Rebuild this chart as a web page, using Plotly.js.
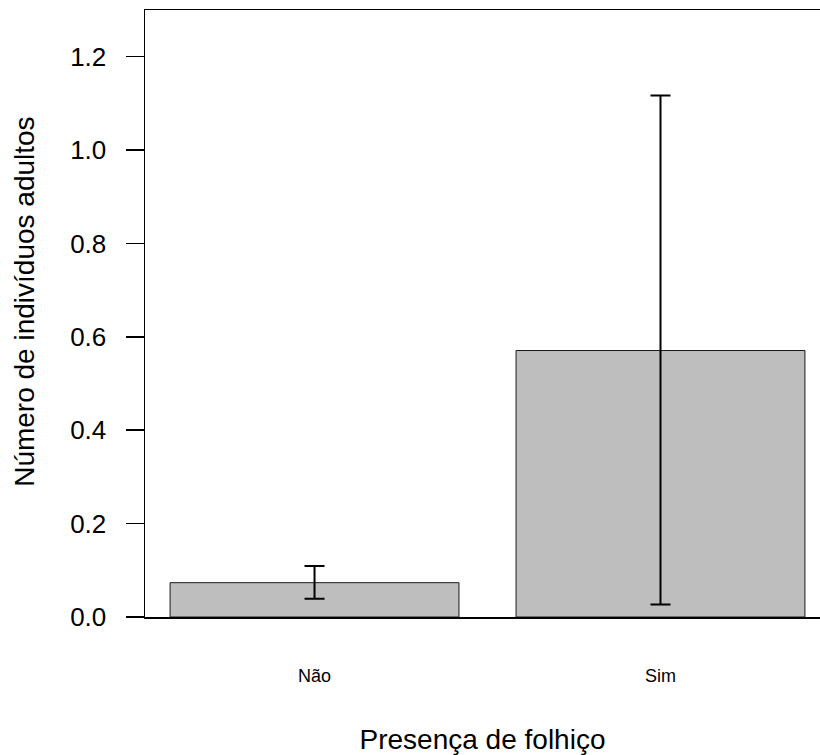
<!DOCTYPE html>
<html>
<head>
<meta charset="utf-8">
<script src="https://cdn.plot.ly/plotly-3.0.1.min.js"></script>
<style>html,body{margin:0;padding:0;background:#fff;}</style>
</head>
<body>
<div id="chart" style="width:820px;height:755px;"></div>
<script>
const categories = ["Não", "Sim"];
const means = [0.0735, 0.5707];
const upperErr = [0.109, 1.117];
const lowerErr = [0.039, 0.027];
const yTickVals = [0.0, 0.2, 0.4, 0.6, 0.8, 1.0, 1.2];
const yTickText = ["0.0", "0.2", "0.4", "0.6", "0.8", "1.0", "1.2"];
const xTitle = "Presença de folhiço";
const yTitle = "Número de indivíduos adultos";

const trace = {
  type: "bar",
  x: categories,
  y: means,
  width: 0.835,
  marker: { color: "#BEBEBE", line: { color: "#1a1a1a", width: 1 } },
  error_y: {
    type: "data",
    symmetric: false,
    array: upperErr.map((u, i) => u - means[i]),
    arrayminus: means.map((m, i) => m - lowerErr[i]),
    color: "#000",
    thickness: 2,
    width: 10
  },
  hoverinfo: "none"
};

const font = "Liberation Sans, Arial, sans-serif";
const layout = {
  width: 820, height: 755,
  margin: { l: 145, r: 0, t: 10, b: 138, pad: 0 },
  paper_bgcolor: "#fff", plot_bgcolor: "#fff",
  showlegend: false,
  font: { family: font, color: "#000" },
  xaxis: {
    type: "category",
    range: [-0.490, 1.461],
    showline: true, linecolor: "#000", linewidth: 1.5, mirror: true,
    showgrid: false, zeroline: false,
    ticks: "",
    ticklabelstandoff: 42,
    tickfont: { family: font, size: 18, color: "#000" },
    title: { text: xTitle, font: { family: font, size: 28, color: "#000" }, standoff: 44 }
  },
  yaxis: {
    range: [0, 1.3],
    showline: true, linecolor: "#000", linewidth: 1.5,
    showgrid: false, zeroline: false,
    ticks: "outside", ticklen: 18, tickwidth: 1.5, tickcolor: "#000",
    tickvals: yTickVals, ticktext: yTickText,
    ticklabelstandoff: 14,
    tickfont: { family: font, size: 26, color: "#000" },
    title: { text: "" }
  },
  annotations: [{
    text: yTitle,
    xref: "paper", yref: "paper",
    x: -0.178, y: 0.519,
    xanchor: "center", yanchor: "middle",
    textangle: -90,
    showarrow: false,
    font: { family: font, size: 28, color: "#000" }
  }]
};

Plotly.newPlot("chart", [trace], layout, { staticPlot: true, displayModeBar: false });
</script>
</body>
</html>
